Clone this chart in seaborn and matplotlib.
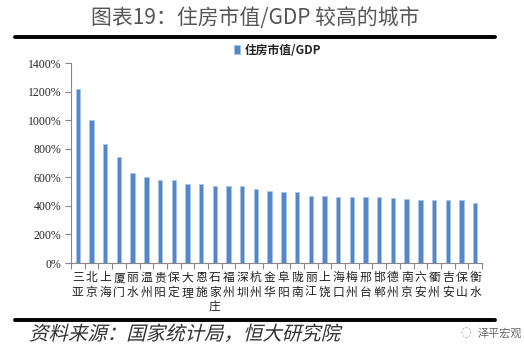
import matplotlib
matplotlib.use("Agg")
import matplotlib.pyplot as plt
from matplotlib.lines import Line2D
from matplotlib.textpath import TextPath
from matplotlib.patches import PathPatch
from matplotlib.font_manager import FontProperties
from matplotlib.transforms import Affine2D
import seaborn as sns
import pandas as pd

# data
cities = ['三亚', '北京', '上海', '厦门', '丽水', '温州', '贵阳', '保定', '大理', '恩施',
          '石家庄', '福州', '深圳', '杭州', '金华', '阜阳', '陇南', '丽江', '上饶', '海口',
          '梅州', '邢台', '邯郸', '德州', '南京', '六安', '衢州', '吉安', '保山', '衡水']
ratio = [1218, 1001, 833, 740, 630, 600, 581, 580, 555, 555,
         541, 537, 537, 520, 502, 499, 496, 470, 470, 464,
         464, 464, 460, 453, 446, 443, 443, 439, 439, 422]
yticks = [0, 200, 400, 600, 800, 1000, 1200, 1400]
series_name = '住房市值/GDP'

df = pd.DataFrame({'city': cities, 'ratio': ratio})

sns.set_style("white")
plt.rcParams['font.family'] = ['Noto Sans CJK SC', 'DejaVu Sans']

W, H = 524, 359
fig = plt.figure(figsize=(W / 100, H / 100), dpi=100)
ax = fig.add_axes([71 / W, 1 - 263 / H, (482 - 71) / W, 200 / H])

sns.barplot(data=df, x='city', y='ratio', color='#5487c9', width=0.32,
            edgecolor='#a9c4e6', linewidth=0.5, saturation=1, ax=ax)

ax.set_xlim(-0.5, len(cities) - 0.5)
ax.set_ylim(0, 1400)
ax.set_xlabel('')
ax.set_ylabel('')

# y axis
ax.set_yticks(yticks)
ax.set_yticklabels([f'{v}%' for v in yticks], fontsize=8.5, family='Liberation Serif')
ax.tick_params(axis='y', length=4, width=0.8, color='#888888', direction='out', left=True, pad=3)

# x axis: tick marks at category boundaries, labels stacked vertically
ax.set_xticks([i - 0.5 for i in range(len(cities) + 1)])
ax.set_xticklabels([])
ax.tick_params(axis='x', which='major', length=4, width=0.8, color='#888888', direction='out', bottom=True)
ax.set_xticks(range(len(cities)), minor=True)
ax.set_xticklabels(['\n'.join(c) for c in cities], minor=True, fontsize=8.5,
                   linespacing=1.15, color='#222222')
ax.tick_params(axis='x', which='minor', length=0, pad=6)

for s in ['top', 'right']:
    ax.spines[s].set_visible(False)
for s in ['left', 'bottom']:
    ax.spines[s].set_color('#888888')
    ax.spines[s].set_linewidth(0.8)

# legend
fig.legend([ax.containers[0]], [series_name], loc='center', bbox_to_anchor=(278 / W, 1 - 50 / H),
           frameon=False, handlelength=0.5, handleheight=0.8, handletextpad=0.4,
           prop={'size': 8.5, 'weight': 'bold'})

# title and rules
fig.text(255 / W, 1 - 18 / H, '图表19：住房市值/GDP 较高的城市', ha='center', va='center',
         fontsize=15, color='#555555')
fig.add_artist(Line2D([15 / W, 495 / W], [1 - 37 / H] * 2, lw=2.8, color='black'))
fig.add_artist(Line2D([15 / W, 495 / W], [1 - 320 / H] * 2, lw=2.8, color='black'))

# source line, slanted by hand since the CJK font has no italic
src = TextPath((0, 0), '资料来源：国家统计局，恒大研究院', size=14,
               prop=FontProperties(family='Noto Sans CJK SC', weight='light'))
tr = Affine2D().skew_deg(14, 0).translate(29 * 0.72, (H - 340) * 0.72).scale(1 / 72) + fig.dpi_scale_trans
fig.add_artist(PathPatch(src, transform=tr, facecolor='#333333', edgecolor='none'))

# watermark
fig.text(478 / W, 1 - 333 / H, '泽平宏观', ha='left', va='center', fontsize=8, color='#666666')
fig.text(466 / W, 1 - 333 / H, '◌', ha='center', va='center', fontsize=9, color='#999999',
         family='DejaVu Sans')

fig.savefig('out.png', dpi=100)
